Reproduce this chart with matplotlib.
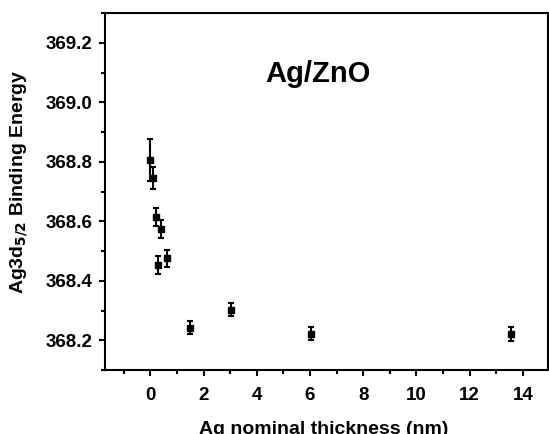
import numpy as np
import matplotlib.pyplot as plt
from matplotlib.ticker import MultipleLocator

plt.rcParams['font.family'] = ['Liberation Sans', 'DejaVu Sans']
plt.rcParams['font.weight'] = 'bold'

# Ag 3d5/2 binding energy vs nominal Ag thickness on ZnO
thickness = [0.0, 0.09, 0.21, 0.29, 0.41, 0.64, 1.51, 3.03, 6.03, 13.56]
energy = [368.805, 368.744, 368.613, 368.453, 368.573, 368.475, 368.242, 368.302, 368.222, 368.221]
energy_err = [0.07, 0.037, 0.03, 0.03, 0.03, 0.03, 0.022, 0.022, 0.022, 0.025]

fig = plt.figure(figsize=(5.49, 4.34), dpi=100)
ax = fig.add_axes([105 / 549, 1 - 370 / 434, 443 / 549, 357 / 434])

ax.errorbar(thickness, energy, yerr=energy_err, fmt='s', color='black',
            markersize=5, elinewidth=1.5, capsize=2, capthick=1.5)

ax.set_xlim(-1.7, 14.94)
ax.set_ylim(368.1, 369.3)
ax.xaxis.set_major_locator(MultipleLocator(2))
ax.xaxis.set_minor_locator(MultipleLocator(1))
ax.yaxis.set_major_locator(MultipleLocator(0.2))
ax.yaxis.set_minor_locator(MultipleLocator(0.1))
ax.yaxis.set_major_formatter(plt.FormatStrFormatter('%.1f'))

ax.tick_params(which='both', direction='out', width=1.5, labelsize=13.5)
ax.tick_params(which='major', length=4)
ax.tick_params(which='minor', length=3)
ax.tick_params(axis='x', pad=8)
ax.tick_params(axis='y', pad=5)
for s in ax.spines.values():
    s.set_linewidth(1.5)

ax.set_xlabel('Ag nominal thickness (nm)', fontsize=14, fontweight='bold', va='top')
ax.xaxis.set_label_coords(0.493, -0.143)
ax.set_ylabel(r'Ag3d$_{\mathbf{5/2}}$ Binding Energy', fontsize=14, fontweight='bold', va='center')
ax.yaxis.set_label_coords(-0.194, 0.527)
ax.text(0.480, 0.83, 'Ag/ZnO', transform=ax.transAxes, fontsize=21,
        fontweight='bold', ha='center', va='center')

fig.savefig('out.png', dpi=100)
